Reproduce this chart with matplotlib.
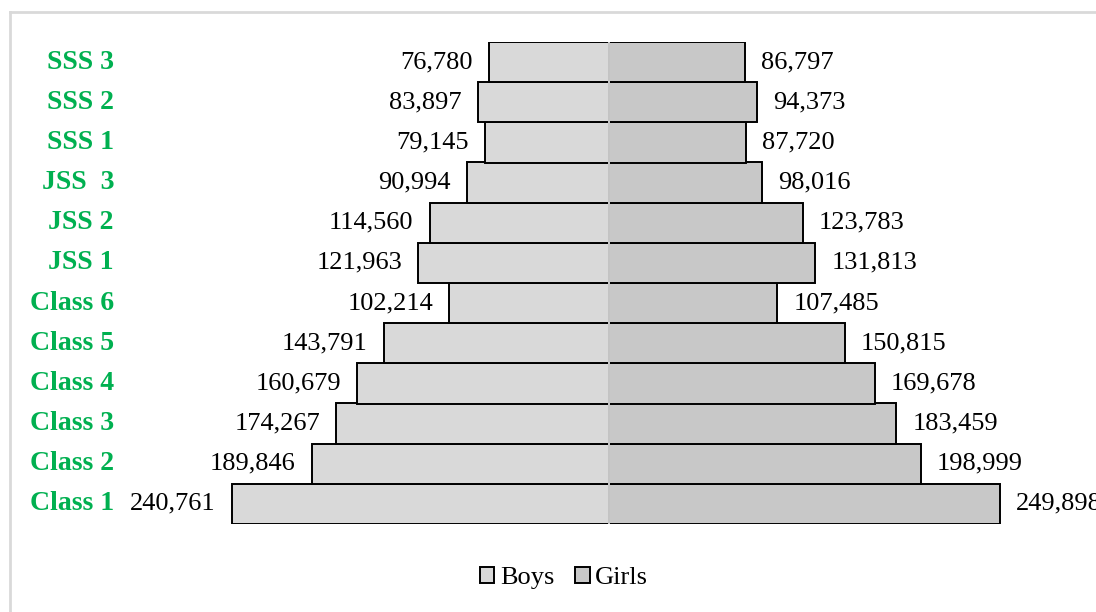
import matplotlib
matplotlib.use("Agg")
import matplotlib.pyplot as plt
import matplotlib.transforms as mtransforms
from matplotlib.patches import Patch
from matplotlib.lines import Line2D

categories = ["Class 1", "Class 2", "Class 3", "Class 4", "Class 5", "Class 6",
              "JSS 1", "JSS 2", "JSS  3", "SSS 1", "SSS 2", "SSS 3"]
boys = [240761, 189846, 174267, 160679, 143791, 102214,
        121963, 114560, 90994, 79145, 83897, 76780]
girls = [249898, 198999, 183459, 169678, 150815, 107485,
         131813, 123783, 98016, 87720, 94373, 86797]
series_names = ["Boys", "Girls"]

boys_color = "#d9d9d9"
girls_color = "#c8c8c8"
green = "#00B050"

plt.rcParams["font.family"] = ["Liberation Serif", "DejaVu Serif"]

W, H = 1096, 612
fig = plt.figure(figsize=(W / 100, H / 100), dpi=100)

# axes layout in pixels
ax_left_px, ax_right_px = 130, 1090
ax_top_px, ax_bot_px = 42, 524
center_px = 609
units_per_px = 638.6
ax = fig.add_axes([ax_left_px / W, 1 - ax_bot_px / H,
                   (ax_right_px - ax_left_px) / W, (ax_bot_px - ax_top_px) / H])
ax.set_xlim((ax_left_px - center_px) * units_per_px, (ax_right_px - center_px) * units_per_px)
ax.set_ylim(-0.5, len(categories) - 0.5)

y = list(range(len(categories)))
ax.barh(y, [-b for b in boys], height=1.0, color=boys_color, edgecolor="black",
        linewidth=1.4, zorder=2)
ax.barh(y, girls, height=1.0, color=girls_color, edgecolor="black",
        linewidth=1.4, zorder=2)
ax.axvline(0, color="#d9d9d9", linewidth=1.3, zorder=3)

fs = 19
off = 16 * units_per_px
for yi, b, g in zip(y, boys, girls):
    ax.text(-b - off, yi, f"{b:,}", ha="right", va="center", fontsize=fs, color="black")
    ax.text(g + off, yi, f"{g:,}", ha="left", va="center", fontsize=fs, color="black")

# category labels
trans = mtransforms.blended_transform_factory(fig.transFigure, ax.transData)
for yi, c in zip(y, categories):
    ax.text(114 / W, yi, c, transform=trans, ha="right", va="center",
            fontsize=20, fontweight="bold", color=green)

ax.axis("off")

# frame lines (chart area border)
fig.add_artist(Line2D([10 / W, 10 / W], [0, 1 - 12 / H], transform=fig.transFigure,
                      color="#d9d9d9", linewidth=2))
fig.add_artist(Line2D([10 / W, 1], [1 - 12 / H, 1 - 12 / H], transform=fig.transFigure,
                      color="#d9d9d9", linewidth=2))

handles = [Patch(facecolor=boys_color, edgecolor="black", linewidth=1.4),
           Patch(facecolor=girls_color, edgecolor="black", linewidth=1.4)]
fig.legend(handles, series_names, loc="center", bbox_to_anchor=(564 / W, 1 - 578 / H),
           ncol=2, frameon=False, fontsize=fs, handlelength=0.55, handleheight=0.55,
           handletextpad=0.2, columnspacing=0.8, borderaxespad=0)

fig.savefig("out.png", dpi=100)
